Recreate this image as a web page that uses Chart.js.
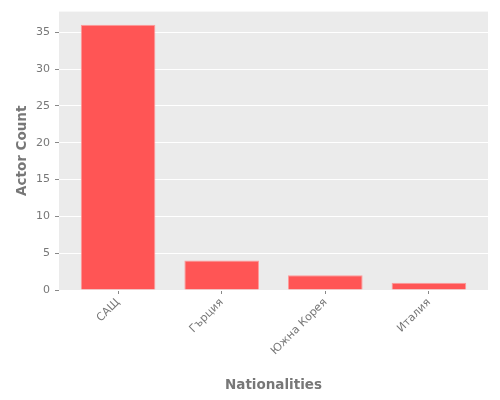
<!DOCTYPE html>
<html>
<head>
<meta charset="utf-8">
<script src="https://cdn.jsdelivr.net/npm/chart.js@4/dist/chart.umd.min.js"></script>
<style>
  html, body { margin: 0; padding: 0; background: #fff; }
  #wrap { width: 500px; height: 400px; }
</style>
</head>
<body>
<div id="wrap"><canvas id="myChart"></canvas></div>
<script>
const nationalities = ['САЩ', 'Гърция', 'Южна Корея', 'Италия'];
const actorCounts = [36, 4, 2, 1];
const yTicks = [0, 5, 10, 15, 20, 25, 30, 35];

Chart.defaults.font.family = "'DejaVu Sans', sans-serif";

// gray panel behind the grid, ggplot style
const panelBg = {
    id: 'panelBg',
    beforeDraw(chart) {
        const a = chart.chartArea;
        const ctx = chart.ctx;
        ctx.save();
        ctx.fillStyle = '#EBEBEB';
        ctx.fillRect(a.left, a.top, a.right - a.left, a.bottom - a.top);
        ctx.restore();
    }
};

let myChart = document.getElementById('myChart').getContext('2d');
let barChart = new Chart(myChart, {
    type: 'bar',
    data: {
        datasets: [{
            label: 'Actor Count',
            data: actorCounts.map((v, i) => ({ x: i, y: v })),
            backgroundColor: '#FF5555',
            borderColor: '#FF9A9A',
            borderWidth: 1,
            barPercentage: 0.72,
            categoryPercentage: 1,
        }]
    },
    options: {
        responsive: true,
        maintainAspectRatio: false,
        animation: false,
        layout: { padding: { top: 10, right: 12, left: 0, bottom: 0 } },
        plugins: {
            legend: { display: false },
            tooltip: { enabled: false }
        },
        scales: {
            x: {
                type: 'linear',
                offset: false,
                min: -0.57,
                max: nationalities.length - 1 + 0.57,
                afterBuildTicks: s => { s.ticks = nationalities.map((_, i) => ({ value: i })); },
                afterFit: s => { s.height = 110; },
                grid: { offset: false, drawOnChartArea: false, drawTicks: true, tickLength: 4, tickColor: '#888' },
                border: { display: false },
                ticks: {
                    autoSkip: false,
                    minRotation: 45,
                    maxRotation: 45,
                    padding: 2,
                    color: '#777',
                    font: { size: 11 },
                    callback: v => nationalities[v]
                },
                title: {
                    display: true,
                    text: 'Nationalities',
                    color: '#777',
                    font: { size: 13.5, weight: 'bold' },
                    padding: { top: 0, bottom: 6 }
                }
            },
            y: {
                min: 0,
                max: 37.8,
                afterBuildTicks: s => { s.ticks = yTicks.map(v => ({ value: v })); },
                afterFit: s => { s.width = 59; },
                grid: { color: '#fff', lineWidth: 1, drawTicks: true, tickLength: 4, tickColor: '#888' },
                border: { display: false },
                ticks: {
                    padding: 5,
                    color: '#777',
                    font: { size: 11 }
                },
                title: {
                    display: true,
                    text: 'Actor Count',
                    color: '#777',
                    font: { size: 13.5, weight: 'bold' },
                    padding: { top: 14, bottom: 4 }
                }
            }
        }
    },
    plugins: [panelBg]
});
</script>
</body>
</html>
